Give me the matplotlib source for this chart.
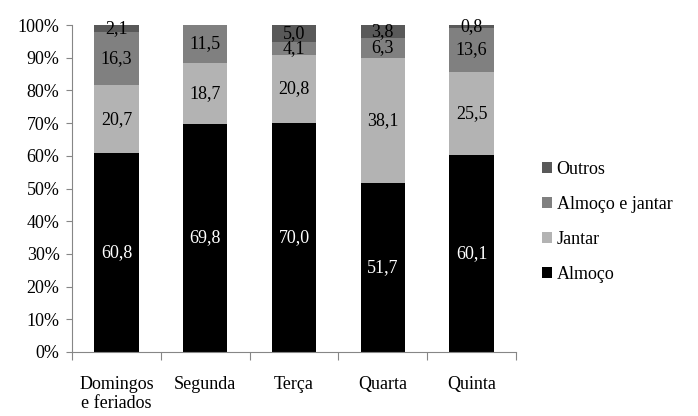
import numpy as np
import matplotlib
matplotlib.use("Agg")
import matplotlib.pyplot as plt

plt.rcParams['font.family'] = ['Liberation Serif', 'DejaVu Serif']

categorias = ['Domingos\ne feriados', 'Segunda', 'Terça', 'Quarta', 'Quinta']
series = ['Almoço', 'Jantar', 'Almoço e jantar', 'Outros']
almoco = [60.8, 69.8, 70.0, 51.7, 60.1]
jantar = [20.7, 18.7, 20.8, 38.1, 25.5]
almoco_jantar = [16.3, 11.5, 4.1, 6.3, 13.6]
outros = [2.1, 0.0, 5.0, 3.8, 0.8]

valores = [almoco, jantar, almoco_jantar, outros]
cores = ['#000000', '#b3b3b3', '#808080', '#595959']
cor_texto = ['white', 'black', 'black', 'black']

fig = plt.figure(figsize=(6.98, 4.16), dpi=100)
ax = fig.add_axes([72 / 698, 1 - 352 / 416, 444 / 698, 327 / 416])

x = np.arange(len(categorias))
base = np.zeros(len(categorias))
handles = []
for vals, cor, ct, nome in zip(valores, cores, cor_texto, series):
    vals = np.array(vals)
    b = ax.bar(x, vals, 0.5, bottom=base, color=cor, label=nome)
    handles.append(b)
    for xi, v, b0 in zip(x, vals, base):
        if v > 0:
            ax.text(xi, b0 + v / 2, f'{v:.1f}'.replace('.', ','),
                    ha='center', va='center', color=ct, fontsize=13)
    base = base + vals

ax.set_xlim(-0.5, len(categorias) - 0.5)
ax.set_ylim(0, 100)
ax.set_yticks(np.arange(0, 101, 10))
ax.set_yticklabels([f'{t}%' for t in range(0, 101, 10)], fontsize=13)
ax.set_xticks(np.arange(-0.5, len(categorias), 1))
ax.set_xticklabels([])
ax.set_xticks(x, minor=True)
ax.set_xticklabels(categorias, minor=True, fontsize=13)
ax.tick_params(axis='x', which='minor', length=0, pad=17)
ax.tick_params(axis='x', which='major', length=6, color='#868686', direction='out')
ax.tick_params(axis='y', length=4, color='#868686', direction='out', pad=5)
for s in ['top', 'right']:
    ax.spines[s].set_visible(False)
for s in ['left', 'bottom']:
    ax.spines[s].set_color('#868686')

leg = fig.legend(handles[::-1], series[::-1], loc='center left',
                 bbox_to_anchor=(526 / 698, 1 - 222 / 416), frameon=False,
                 fontsize=13, handlelength=0.55, handleheight=0.55,
                 handletextpad=0.25, labelspacing=1.0)

fig.savefig('out.png', dpi=100)
